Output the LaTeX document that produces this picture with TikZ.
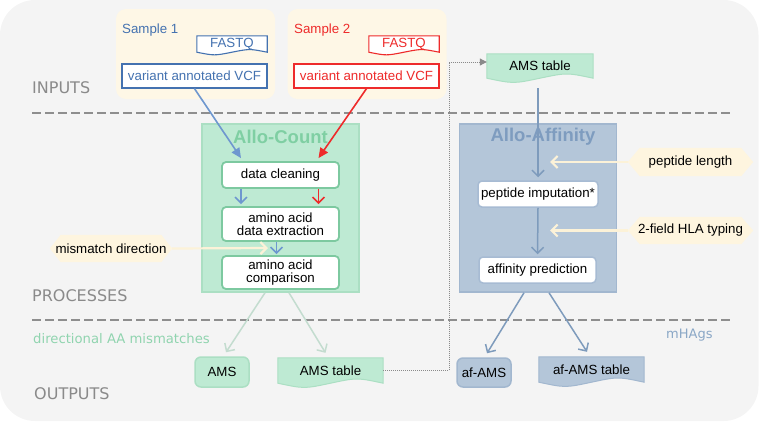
\documentclass[tikz,border=0pt]{standalone}
\usepackage{fontspec}
\setmainfont{Liberation Sans}
\newfontfamily\labfont{DejaVu Sans}
\usetikzlibrary{arrows.meta,calc}
\pgfdeclarelayer{bgl}
\pgfdeclarelayer{shp}
\pgfsetlayers{bgl,shp,main}
\definecolor{bgc}{HTML}{F4F4F4}
\definecolor{creamc}{HTML}{FEF7E6}
\definecolor{hexc}{HTML}{FEF5DF}
\definecolor{carrow}{HTML}{FCF2D8}
\definecolor{s1c}{HTML}{4472B0}
\definecolor{s1a}{HTML}{6E97CF}
\definecolor{s2c}{HTML}{EE2B2B}
\definecolor{gfill}{HTML}{BEEAD3}
\definecolor{gbord}{HTML}{ABDFC3}
\definecolor{gtitle}{HTML}{7FCFA3}
\definecolor{gnode}{HTML}{7DC9A0}
\definecolor{garrow}{HTML}{C3DCCF}
\definecolor{gtext}{HTML}{90D4AF}
\definecolor{bfill}{HTML}{B4C6D9}
\definecolor{bbord}{HTML}{A2B7CF}
\definecolor{btitle}{HTML}{7E9CBF}
\definecolor{bnode}{HTML}{A7BBD3}
\definecolor{barrow}{HTML}{7E9BBC}
\definecolor{btext}{HTML}{8AA7C6}
\definecolor{labc}{HTML}{8A8A8A}
\definecolor{dashc}{HTML}{8E8E8E}
\definecolor{dotc}{HTML}{8A8A8A}
\newcommand\docpath[3]{%
  \begin{pgfonlayer}{shp}
  \path[#2] let \p1=(#1.north west), \p2=(#1.south east), \n1={\x2-\x1} in
    (\x1,\y2) -- (\x1,\y1) -- (\x2,\y1) -- (\x2,\y2)
    .. controls ({\x1+0.75*\n1},{\y2+1.4*#3}) .. ({\x1+0.5*\n1},\y2)
    .. controls ({\x1+0.25*\n1},{\y2-1.4*#3}) .. (\x1,\y2) -- cycle;
  \end{pgfonlayer}}
\newcommand\hexpath[3]{%
  \begin{pgfonlayer}{shp}
  \path[#2] let \p1=(#1.north west), \p2=(#1.south east) in
    (\x1,{0.5*(\y1+\y2)}) -- ({\x1+#3},\y1) -- ({\x2-#3},\y1) -- (\x2,{0.5*(\y1+\y2)})
    -- ({\x2-#3},\y2) -- ({\x1+#3},\y2) -- cycle;
  \end{pgfonlayer}}
\begin{document}
\begin{tikzpicture}[x=1pt,y=-1pt,
  every node/.style={inner sep=0pt, font=\fontsize{13.3}{13.5}\selectfont},
  inbox/.style={fill=creamc, rounded corners=10pt, minimum width=159pt, minimum height=90pt},
  vcfbox/.style={draw=#1, fill=white, line width=1.2pt, text=#1, minimum width=145pt, minimum height=24pt},
  stage/.style={minimum width=157pt, minimum height=168pt, line width=1.5pt},
  proc/.style={fill=white, rounded corners=4pt, line width=1.8pt, align=center, minimum width=117pt},
  ttl/.style={font=\bfseries\fontsize{18.5}{20}\selectfont},
  lab/.style={font=\labfont\fontsize{16}{18}\selectfont, text=labc, anchor=west},
  hexbox/.style={minimum width=122pt, minimum height=27pt},
  fillarrow/.style={-{Triangle[length=10pt,width=9pt]}, line width=1.6pt},
  openarrow/.style={-{Straight Barb[length=6pt,width=12pt]}, line width=1.5pt},
  creamarrow/.style={-{Straight Barb[length=6pt,width=12pt]}, line width=2.2pt, draw=carrow},
  dashline/.style={draw=dashc, line width=1.4pt, dash pattern=on 9pt off 4pt},
  dotline/.style={draw=dotc, line width=1pt, dash pattern=on 1pt off 1pt, -{Triangle[length=7pt,width=7pt,fill=dotc]}}
]
\useasboundingbox (0,0) rectangle (759,424);
\begin{pgfonlayer}{bgl}
  \fill[bgc, rounded corners=35pt] (0,0) rectangle (758.5,421);
  \node[inbox] (in1) at (195.5,54) {};
  \node[inbox] (in2) at (367,54) {};
\end{pgfonlayer}

% section labels and dashed separators
\draw[dashline] (32,113) -- (733,113);
\draw[dashline] (32,320) -- (733,320);
\node[lab] (linputs) at (32,88) {INPUTS};
\node[lab] (lproc) at (32,296) {PROCESSES};
\node[lab] (lout) at (34,393.5) {OUTPUTS};
\node[anchor=west, font=\labfont\fontsize{13.2}{15}\selectfont, text=gtext] (dirt) at (33,339) {directional AA mismatches};
\node[anchor=west, font=\labfont\fontsize{13}{15}\selectfont, text=btext] (mhag) at (666,335) {mHAgs};

% inputs
\node[anchor=west, text=s1c] (s1t) at (122,30) {Sample 1};
\node[anchor=west, text=s2c] (s2t) at (294,30) {Sample 2};
\node[minimum width=70pt, minimum height=16pt, text=s1c] (fq1) at (232,44) {FASTQ};
\docpath{fq1}{fill=white, draw=s1c, line width=1.1pt}{2.5pt}
\node[minimum width=70pt, minimum height=16pt, text=s2c] (fq2) at (404,44) {FASTQ};
\docpath{fq2}{fill=white, draw=s2c, line width=1.1pt}{2.5pt}
\node[vcfbox=s1c] (vcf1) at (194.5,76) {variant annotated VCF};
\node[vcfbox=s2c] (vcf2) at (366.5,76) {variant annotated VCF};

% Allo-Count
\node[stage, fill=gfill, draw=gbord] (ac) at (280.5,208) {};
\node[proc, draw=gnode, minimum height=26pt] (dc) at (280.5,175) {data cleaning};
\node[proc, draw=gnode, minimum height=34pt] (ext) at (280.5,224) {amino acid\\data extraction};
\node[proc, draw=gnode, minimum height=33pt] (cmp) at (280.5,272.5) {amino acid\\comparison};
\node[ttl, text=gtitle] (act) at (280.5,137) {Allo-Count};

\draw[fillarrow, draw=s1a, fill=s1a] (vcf1.south) -- ([xshift=-39.5pt,yshift=3pt]dc.north);
\draw[fillarrow, draw=s2c, fill=s2c] (vcf2.south) -- ([xshift=38pt,yshift=3pt]dc.north);
\draw[openarrow, draw=s1a] ([xshift=-39.5pt]dc.south) -- ([xshift=-39.5pt,yshift=2pt]ext.north);
\draw[openarrow, draw=s2c] ([xshift=38pt]dc.south) -- ([xshift=38pt,yshift=2pt]ext.north);
\draw[openarrow, draw=s1a] ([xshift=-4pt]ext.south) -- ([xshift=-4pt,yshift=1pt]cmp.north);

\node[hexbox] (mm) at (111,248.5) {mismatch direction};
\hexpath{mm}{fill=hexc}{11pt}
\coordinate (mmtip) at (268,248);
\draw[creamarrow] (mm.east) -- (mmtip);

% Allo-Affinity
\node[minimum width=106pt, minimum height=24pt] (amstop) at (540,66) {AMS table};
\docpath{amstop}{fill=gfill, draw=gbord, line width=1pt}{4pt}
\node[stage, fill=bfill, draw=bbord] (af) at (538,208) {};
\node[proc, draw=bnode, minimum width=120pt, minimum height=26pt, line width=1.5pt] (pi) at (538,194) {peptide imputation*};
\node[proc, draw=bnode, minimum height=26pt, line width=1.5pt] (ap) at (537.5,270) {affinity prediction};
\draw[openarrow, draw=barrow, shorten <=10pt, shorten >=3pt] (pi.north |- amstop.south) -- (pi.north);
\draw[openarrow, draw=barrow, shorten >=2pt] (pi.south) -- (ap.north);
\node[ttl, text=btitle] (aft) at (543,137) {Allo-Affinity};

\node[minimum width=125pt, minimum height=28pt] (pl) at (690.5,162) {peptide length};
\hexpath{pl}{fill=hexc}{12pt}
\node[minimum width=125pt, minimum height=27pt] (hla) at (690.5,230.5) {2-field HLA typing};
\hexpath{hla}{fill=hexc}{12pt}
\coordinate (pltip) at (550,162);
\coordinate (hlatip) at (550,230.5);
\draw[creamarrow] (pl.west) -- (pltip);
\draw[creamarrow] (hla.west) -- (hlatip);

% outputs
\node[fill=gfill, draw=gbord, line width=1.5pt, rounded corners=6pt, minimum width=54pt, minimum height=30pt] (ams) at (222,372) {AMS};
\node[minimum width=105pt, minimum height=25pt] (amsb) at (330.5,370.5) {AMS table};
\docpath{amsb}{fill=gfill, draw=gbord, line width=1pt}{4pt}
\node[fill=bfill, draw=bbord, line width=1.5pt, rounded corners=6pt, minimum width=54pt, minimum height=29pt] (afams) at (484,372.5) {af-AMS};
\node[minimum width=105pt, minimum height=25pt] (afamsb) at (591.5,369.5) {af-AMS table};
\docpath{afamsb}{fill=bfill, draw=bbord, line width=1pt}{4pt}

\draw[openarrow, draw=garrow] ([xshift=-15.5pt]ac.south) -- ([xshift=4pt,yshift=4pt]ams.north);
\draw[openarrow, draw=garrow] ([xshift=8.5pt]ac.south) -- ([xshift=-5pt,yshift=5pt]amsb.north);
\draw[openarrow, draw=barrow] ([xshift=-14pt]af.south) -- ([xshift=3pt,yshift=4pt]afams.north);
\draw[openarrow, draw=barrow] ([xshift=11pt]af.south) -- ([xshift=-4.5pt,yshift=5pt]afamsb.north);

\coordinate (dbend) at (449,370.5);
\draw[dotline] (amsb.east) -- (dbend) |- ([yshift=4pt]amstop.west);
\end{tikzpicture}
\end{document}
